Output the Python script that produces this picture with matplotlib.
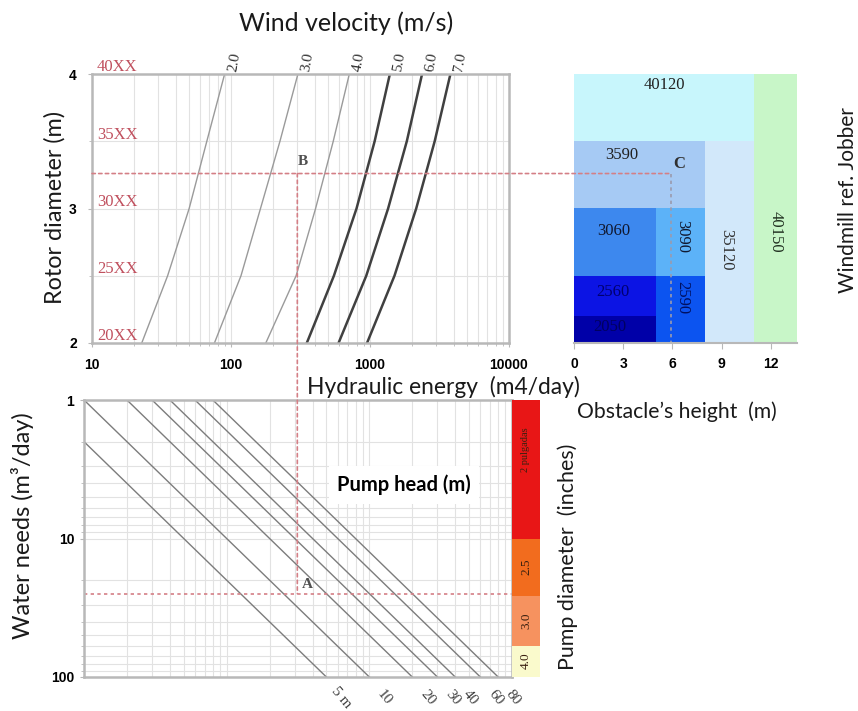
import numpy as np
import matplotlib.pyplot as plt
from matplotlib.patches import ConnectionPatch
from matplotlib.transforms import blended_transform_factory

# top panel: rotor diameter vs hydraulic energy, one curve per wind speed
rotor_d = [2.0, 2.5, 3.0, 3.5, 4.0]
wind_labels = ['2.0', '3.0', '4.0', '5.0', '6.0', '7.0']
energy_v2 = [22.8, 35, 50, 67, 90]
energy_v3 = [76, 118, 163, 225, 303]
energy_v4 = [178, 294, 406, 544, 710]
energy_v5 = [351, 550, 800, 1080, 1390]
energy_v6 = [594, 940, 1350, 1840, 2370]
energy_v7 = [952, 1500, 2150, 2920, 3790]
row_labels = ['20XX', '25XX', '30XX', '35XX', '40XX']

# bottom panel: pump head lines
head_labels = ['5 m', '10', '20', '30', '40', '60', '80']
head_e_start = [10, 10, 20, 30, 40, 60, 80]
head_q_start = [2, 1, 1, 1, 1, 1, 1]
head_e_end = [500, 1000, 2000, 3000, 4000, 6000, 8000]
head_q_end = [100, 100, 100, 100, 100, 100, 100]

# pump diameter bands (water needs m3/day)
pump_edges = [1, 10, 26, 60, 100]
pump_labels = ['2 pulgadas', '2.5', '3.0', '4.0']
pump_label_q = [2.3, 16, 39, 76]
pump_colors = ['#e81616', '#f26c1e', '#f6925f', '#fafacc']

# windmill ref blocks: obstacle height range x rotor diameter range
mill_refs = ['40120', '40150', '3590', '35120', '3060', '3090', '2560', '2050', '2590']
h_min = [0, 11, 0, 8, 0, 5, 0, 0, 5]
h_max = [11, 13.6, 8, 11, 5, 8, 5, 5, 8]
d_min = [3.5, 2.0, 3.0, 2.0, 2.5, 2.5, 2.2, 2.0, 2.0]
d_max = [4.0, 4.0, 3.5, 3.5, 3.0, 3.0, 2.5, 2.2, 2.5]
mill_colors = ['#c8f6fc', '#c8f6c8', '#a6caf4', '#d2e8fa', '#3d88ee',
               '#5cb2f8', '#0c14e4', '#0000a8', '#0c54f0']
lab_h = [5.5, 12.3, 2.9, 9.3, 2.4, 6.6, 2.4, 2.2, 6.6]
lab_d = [3.92, 2.83, 3.40, 2.69, 2.83, 2.79, 2.38, 2.12, 2.34]
lab_rot = [0, -90, 0, -90, 0, -90, 0, 0, -90]
lab_col = ['#202020', '#203020', '#202020', '#303030', '#101830',
           '#101830', '#000070', '#000060', '#001060']

# worked example (points B, A, C)
guide_energy = 300
guide_d = 3.26
guide_q = 25
guide_h = 5.9

W, H = 858, 711
fig = plt.figure(figsize=(W / 100, H / 100), dpi=100)


def box(x0, y0, x1, y1):
    return [x0 / W, 1 - y1 / H, (x1 - x0) / W, (y1 - y0) / H]


ax_top = fig.add_axes(box(92, 74, 509, 343))
ax_bot = fig.add_axes(box(84, 400, 512, 677))
ax_bar = fig.add_axes(box(512, 400, 540, 677))
ax_obs = fig.add_axes(box(574, 74, 797, 343))

spine_c = '#b8b8b8'
grid_c = '#e2e2e2'
sans = 'Lato'
serif = 'Liberation Serif'
red = '#d47f86'

for ax in (ax_top, ax_bot):
    for s in ax.spines.values():
        s.set_color(spine_c)
        s.set_linewidth(1.8)
    ax.tick_params(which='both', colors=spine_c, labelcolor='black',
                   labelsize=10)
    ax.grid(which='both', color=grid_c, lw=0.8)
    ax.set_axisbelow(True)

# ---- top panel
ax_top.set_xscale('log')
ax_top.set_xlim(10, 10000)
ax_top.set_ylim(2, 4)
ax_top.set_xticks([10, 100, 1000, 10000], labels=['10', '100', '1000', '10000'])
ax_top.set_yticks([2, 3, 4], labels=['2', '3', '4'])
ax_top.set_yticks([2.5, 3.5], minor=True)
ax_top.tick_params(which='major', length=3, pad=8)
ax_top.tick_params(which='minor', length=2)
for lab in ax_top.get_xticklabels() + ax_top.get_yticklabels():
    lab.set_fontweight('bold')
    lab.set_fontfamily('Liberation Sans')

curves = [energy_v2, energy_v3, energy_v4, energy_v5, energy_v6, energy_v7]
for i, (e, lbl) in enumerate(zip(curves, wind_labels)):
    heavy = i >= 3
    ax_top.plot(e, rotor_d, color='#404040' if heavy else '#9a9a9a',
                lw=1.8 if heavy else 1.0)
    ax_top.annotate(lbl, xy=(e[-1], 4.0), xytext=(1, 1),
                    textcoords='offset points', rotation=80, ha='left',
                    va='bottom', fontfamily=serif, fontsize=11,
                    color='#303030', annotation_clip=False)

row_tr = blended_transform_factory(ax_top.transAxes, ax_top.transData)
for d, lbl in zip(rotor_d, row_labels):
    ax_top.text(0.012, d + 0.05, lbl, transform=row_tr, ha='left',
                va='center', fontfamily=serif, fontsize=12, color='#c0505e')

# ---- bottom panel
ax_bot.set_xscale('log')
ax_bot.set_yscale('log')
ax_bot.set_xlim(10, 10000)
ax_bot.set_ylim(100, 1)
ax_bot.set_yticks([1, 10, 100], labels=['1', '10', '100'])
ax_bot.tick_params(axis='x', which='both', length=0, labelbottom=False)
ax_bot.tick_params(axis='y', which='major', length=3, pad=4)
ax_bot.tick_params(axis='y', which='minor', length=2)
for lab in ax_bot.get_yticklabels():
    lab.set_fontweight('bold')
    lab.set_fontfamily('Liberation Sans')

for lbl, e0, q0, e1, q1 in zip(head_labels, head_e_start, head_q_start,
                               head_e_end, head_q_end):
    ax_bot.plot([e0, e1], [q0, q1], color='#7c7c7c', lw=1.0)
    ax_bot.annotate(lbl, xy=(e1, q1), xytext=(11, -15),
                    textcoords='offset points', rotation=-50, ha='center',
                    va='center', fontfamily=serif, fontsize=11,
                    color='#404040', annotation_clip=False)

ax_bot.text(0.748, 0.693, 'Pump head (m)', transform=ax_bot.transAxes,
            ha='center', va='center', fontfamily=sans, fontweight='bold',
            fontsize=14.5, bbox=dict(facecolor='white', edgecolor='none', pad=6))

ax_bot.plot([10, 10000], [guide_q, guide_q], color=red, lw=1.2,
            ls=(0, (2, 2)))

# ---- pump diameter bar
ax_bar.set_yscale('log')
ax_bar.set_ylim(100, 1)
ax_bar.set_xlim(0, 1)
ax_bar.axis('off')
for i, (lbl, c) in enumerate(zip(pump_labels, pump_colors)):
    ax_bar.bar(0, pump_edges[i + 1] - pump_edges[i], bottom=pump_edges[i],
               width=1, align='edge', color=c)
    ax_bar.text(0.5, pump_label_q[i], lbl, rotation=90, ha='center',
                va='center', fontfamily=serif,
                fontsize=7.5 if i == 0 else 9.5, color='#3a2010')

# ---- windmill blocks
ax_obs.bar(h_min, np.subtract(d_max, d_min), width=np.subtract(h_max, h_min),
           bottom=d_min, align='edge', color=mill_colors)
ax_obs.set_xlim(0, 13.6)
ax_obs.set_ylim(2, 4)
for side in ('top', 'right', 'left'):
    ax_obs.spines[side].set_visible(False)
ax_obs.spines['bottom'].set_color(spine_c)
ax_obs.spines['bottom'].set_linewidth(1.5)
ax_obs.set_yticks([])
ax_obs.set_xticks([0, 3, 6, 9, 12], labels=['0', '3', '6', '9', '12'])
ax_obs.tick_params(axis='x', colors=spine_c, labelcolor='black', length=4,
                   pad=6, labelsize=10)
for lab in ax_obs.get_xticklabels():
    lab.set_fontweight('bold')
    lab.set_fontfamily('Liberation Sans')
for lbl, x, y, r, c in zip(mill_refs, lab_h, lab_d, lab_rot, lab_col):
    ax_obs.text(x, y, lbl, rotation=r, ha='center', va='center',
                fontfamily=serif, fontsize=12, color=c)
ax_obs.plot([guide_h, guide_h], [guide_d, 2], color='#9a9aae', lw=1.2,
            ls=(0, (2, 2)))

# ---- guide lines B -> A and B -> C
blend = blended_transform_factory(ax_top.transData, ax_bot.transData)
con_v = ConnectionPatch(xyA=(guide_energy, guide_d), coordsA=ax_top.transData,
                        xyB=(guide_energy, guide_q), coordsB=blend,
                        color=red, lw=1.2, ls=(0, (2, 2)))
fig.add_artist(con_v)
con_h = ConnectionPatch(xyA=(10, guide_d), coordsA=ax_top.transData,
                        xyB=(guide_h, guide_d), coordsB=ax_obs.transData,
                        color=red, lw=1.2, ls=(0, (2, 2)))
fig.add_artist(con_h)

ax_top.annotate('B', xy=(guide_energy, guide_d), xytext=(0, 4),
                textcoords='offset points', ha='left', va='bottom',
                fontfamily=serif, fontweight='bold', fontsize=11,
                color='#505050')
ax_bot.annotate('A', xy=(guide_energy, guide_q), xycoords=blend,
                xytext=(3, 2), textcoords='offset points', ha='left',
                va='bottom', fontfamily=serif, fontweight='bold', fontsize=11,
                color='#505050')
ax_obs.annotate('C', xy=(guide_h, guide_d), xytext=(2, 1),
                textcoords='offset points', ha='left', va='bottom',
                fontfamily=serif, fontweight='bold', fontsize=12,
                color='#303030')

# ---- axis titles


def ftext(x, y, s, **kw):
    fig.text(x / W, 1 - y / H, s, ha=kw.pop('ha', 'center'), va='center',
             fontfamily=sans, color='#1a1a1a', **kw)


ftext(346, 23, 'Wind velocity (m/s)', fontsize=18)
ftext(55, 207, 'Rotor diameter (m)', fontsize=16.8, rotation=90)
ftext(307, 387, 'Hydraulic energy  (m4/day)', fontsize=16.4, ha='left')
ftext(23, 526, 'Water needs (m\u00b3/day)', fontsize=17, rotation=90)
ftext(568, 557, 'Pump diameter  (inches)', fontsize=15.4, rotation=90)
ftext(577, 412, 'Obstacle\u2019s height  (m)', fontsize=15.2, ha='left')
ftext(848, 200, 'Windmill ref. Jobber', fontsize=15, rotation=90)

fig.savefig('out.png', dpi=100)
